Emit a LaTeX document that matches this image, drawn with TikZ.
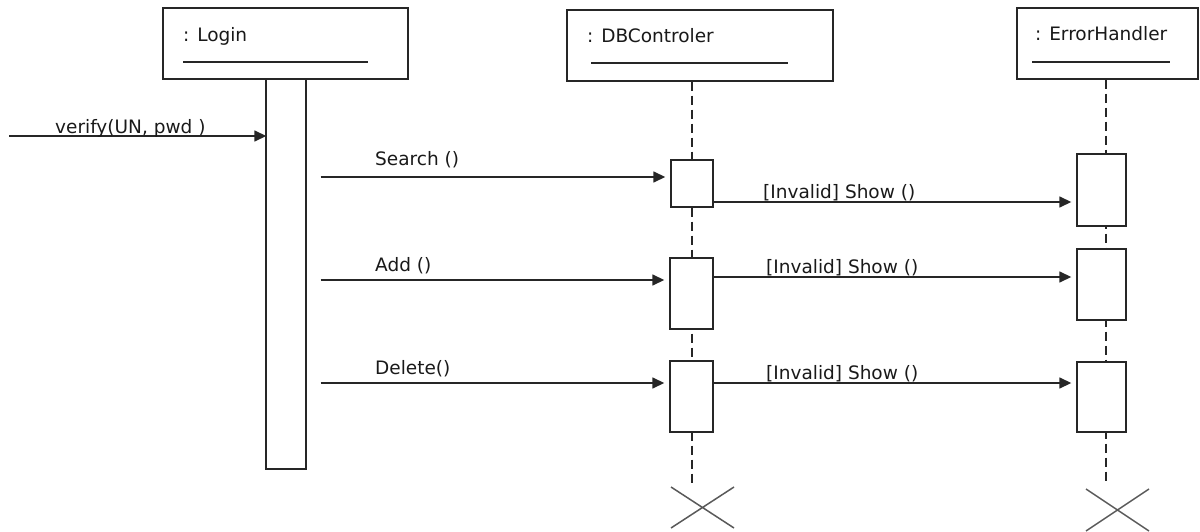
\documentclass[tikz,border=0pt]{standalone}
\usepackage{fontspec}
\setmainfont{DejaVu Sans}
\usetikzlibrary{arrows.meta}
\tikzset{
  obj/.style={draw=black!85, line width=1.4pt, fill=white, inner sep=0pt},
  act/.style={draw=black!85, line width=1.4pt, fill=white, inner sep=0pt},
  life/.style={draw=black!85, line width=2.4pt, dash pattern=on 9pt off 5pt},
  msg/.style={draw=black!85, line width=1.5pt, -{Triangle[length=12pt,width=11pt]}, shorten >=5pt},
  lbl/.style={anchor=base west, inner sep=0pt, text=black!90, font=\fontsize{18.5}{22}\selectfont},
  uline/.style={draw=black!85, line width=1.4pt},
  kill/.style={draw=black!65, line width=1.5pt}
}
\begin{document}
\begin{tikzpicture}[x=1pt,y=-1pt]
\useasboundingbox (0,0) rectangle (1200,532);

% lifelines (drawn first, activation boxes cover them)
\coordinate (dbend) at (692,483);
\coordinate (ehend) at (1106,483);

% object headers
\node[obj, minimum width=245pt, minimum height=71pt] (login) at (285.5,43.5) {};
\node[obj, minimum width=266pt, minimum height=71pt] (db) at (700,45.5) {};
\node[obj, minimum width=181pt, minimum height=71pt] (eh) at (1107.5,43.5) {};

\node[lbl] (loginT) at (183,42) {: Login};
\node[lbl] (dbT) at (587,43) {: DBControler};
\node[lbl] (ehT) at (1035,41) {: ErrorHandler};
\draw[uline] (183,62) -- (368,62);
\draw[uline] (591,63) -- (788,63);
\draw[uline] (1032,62) -- (1170,62);

\draw[life] (db.south -| dbend) -- (dbend);
\draw[life] (eh.south -| ehend) -- (ehend);

% activation bars
\node[act, minimum width=40pt, minimum height=390pt] (lgbar) at (286,274) {};
\node[act, minimum width=42pt, minimum height=47pt] (db1) at (692,183.5) {};
\node[act, minimum width=43pt, minimum height=71pt] (db2) at (691.5,293.5) {};
\node[act, minimum width=43pt, minimum height=71pt] (db3) at (691.5,396.5) {};
\node[act, minimum width=49pt, minimum height=72pt] (eh1) at (1101.5,190) {};
\node[act, minimum width=49pt, minimum height=71pt] (eh2) at (1101.5,284.5) {};
\node[act, minimum width=49pt, minimum height=70pt] (eh3) at (1101.5,397) {};

% incoming call
\coordinate (src) at (9,136);
\draw[msg, shorten >=-1pt] (src) -- (lgbar.west |- src);
\node[lbl] (verifyT) at (55,134) {verify(UN, pwd )};

% calls to the controller
\draw[msg, shorten <=14pt] (lgbar.east |- 0,177) -- (db1.west |- 0,177);
\node[lbl] (searchT) at (375,166) {Search ()};
\draw[msg, shorten <=14pt] (lgbar.east |- 0,280) -- (db2.west |- 0,280);
\node[lbl] (addT) at (375,271) {Add ()};
\draw[msg, shorten <=14pt] (lgbar.east |- 0,383) -- (db3.west |- 0,383);
\node[lbl] (delT) at (375,374) {Delete()};

% error notifications
\draw[msg] (db1.east |- 0,202) -- (eh1.west |- 0,202);
\node[lbl] (show1) at (763,198) {[Invalid] Show ()};
\draw[msg] (db2.east |- 0,277) -- (eh2.west |- 0,277);
\node[lbl] (show2) at (766,273) {[Invalid] Show ()};
\draw[msg] (db3.east |- 0,383) -- (eh3.west |- 0,383);
\node[lbl] (show3) at (766,379) {[Invalid] Show ()};

% destruction marks
\draw[kill] (671,487) -- (734,528) (671,528) -- (734,487);
\draw[kill] (1086,489) -- (1149,531) (1086,531) -- (1149,489);
\end{tikzpicture}
\end{document}
